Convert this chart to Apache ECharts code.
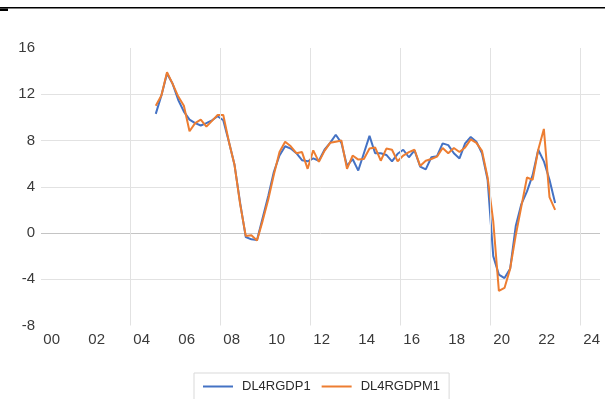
<!DOCTYPE html>
<html>
<head>
<meta charset="utf-8">
<script src="https://cdn.jsdelivr.net/npm/echarts@6/dist/echarts.min.js"></script>
<style>
  html, body { margin: 0; padding: 0; background: #fff; }
  #chart { width: 605px; height: 399px; }
</style>
</head>
<body>
<div id="chart"></div>
<script>
// Quarterly series, first observation 2004 Q3
const firstYear = 2004;
const firstQuarter = 3;

// Year-on-year growth, percent
const dl4rgdp1 = [
  10.3, 11.9, 13.8, 12.9, 11.5, 10.5, 9.8, 9.5, 9.3, 9.5, 9.75, 10.1,
  9.75, 7.9, 5.9, 2.6, -0.35, -0.55, -0.6, 1.3, 3.2, 5.3, 6.7, 7.5,
  7.3, 6.9, 6.3, 6.2, 6.45, 6.25, 7.2, 7.8, 8.5, 7.8, 5.8, 6.4,
  5.4, 6.9, 8.4, 6.9, 6.9, 6.75, 6.2, 6.85, 7.2, 6.55, 7.15, 5.75,
  5.5, 6.55, 6.65, 7.75, 7.6, 6.9, 6.45, 7.75, 8.3, 7.9, 6.9, 4.6,
  -2.0, -3.6, -3.9, -3.1, 0.6, 2.5, 3.6, 5.0, 7.2, 6.2, 4.6, 2.6
];
const dl4rgdpm1 = [
  11.0, 11.9, 13.9, 12.9, 11.8, 11.0, 8.8, 9.5, 9.8, 9.2, 9.7, 10.2,
  10.2, 7.9, 5.9, 2.5, -0.25, -0.2, -0.65, 1.05, 2.9, 5.05, 7.0, 7.9,
  7.5, 6.9, 7.0, 5.55, 7.15, 6.15, 7.1, 7.8, 7.9, 8.0, 5.55, 6.7,
  6.35, 6.4, 7.3, 7.4, 6.25, 7.3, 7.2, 6.2, 6.7, 7.0, 7.2, 5.8,
  6.25, 6.4, 6.6, 7.35, 6.9, 7.35, 7.0, 7.4, 8.1, 7.8, 7.1, 4.8,
  1.0, -5.0, -4.75, -3.1, -0.2, 2.3, 4.8, 4.6, 7.2, 9.0, 3.1, 2.0
];

const seriesNames = ['DL4RGDP1', 'DL4RGDPM1'];
const seriesColors = ['#4472C4', '#ED7D31'];

// Axis labels (years since 2000) and vertical gridline positions
const yearTicks = [0, 2, 4, 6, 8, 10, 12, 14, 16, 18, 20, 22, 24];
const yearGridLines = [3.5, 7.5, 11.5, 15.5, 19.5, 23.5];
const valueTicks = [-8, -4, 0, 4, 8, 12, 16];

// Quarter labels and their mid-quarter position on the year axis
const quarters = [];
const quarterPos = [];
for (let i = 0; i < dl4rgdp1.length; i++) {
  const k = (firstQuarter - 1) + i;
  const y = firstYear + Math.floor(k / 4);
  const q = (k % 4) + 1;
  quarters.push(y + 'Q' + q);
  quarterPos.push((y - 2000) + (q - 1) * 0.25 + 0.125);
}

function pairs(values) {
  return values.map((v, i) => [quarterPos[i], v]);
}

const labelColor = '#3a3a3a';
const gridColor = '#e2e2e2';

const chart = echarts.init(document.getElementById('chart'), null, { renderer: 'canvas' });

chart.setOption({
  animation: false,
  backgroundColor: '#ffffff',
  textStyle: { fontFamily: 'Liberation Sans' },
  graphic: [
    { type: 'rect', shape: { x: 0, y: 7, width: 605, height: 1.6 }, style: { fill: '#000' }, silent: true },
    { type: 'rect', shape: { x: 0, y: 8.5, width: 8, height: 2.5 }, style: { fill: '#000' }, silent: true }
  ],
  grid: { left: 41, right: 5, top: 48, bottom: 73.5, containLabel: false },
  xAxis: {
    type: 'value',
    min: -0.476,
    max: 24.37,
    axisLine: { show: false },
    axisTick: { show: false },
    splitLine: { show: false },
    axisLabel: {
      customValues: yearTicks,
      margin: 7,
      fontSize: 15,
      color: labelColor,
      fontFamily: 'Liberation Sans',
      formatter: v => String(Math.round(v)).padStart(2, '0')
    }
  },
  yAxis: {
    type: 'value',
    min: valueTicks[0],
    max: valueTicks[valueTicks.length - 1],
    interval: 4,
    axisLine: { show: false },
    axisTick: { show: false },
    axisLabel: { margin: 6, fontSize: 15, color: labelColor, fontFamily: 'Liberation Sans' },
    splitLine: {
      show: true,
      lineStyle: {
        width: 1,
        color: valueTicks.map(v => v === 0 ? '#c4c4c4'
          : (v === valueTicks[0] || v === valueTicks[valueTicks.length - 1]) ? 'rgba(0,0,0,0)'
          : gridColor)
      }
    }
  },
  legend: {
    data: seriesNames,
    left: 194,
    top: 373,
    orient: 'horizontal',
    padding: [7, 9, 14, 9],
    borderColor: '#d9d9d9',
    borderWidth: 1,
    itemWidth: 30,
    itemHeight: 2,
    itemGap: 11,
    icon: 'rect',
    textStyle: { fontSize: 13, color: '#2b2b2b', fontFamily: 'Liberation Sans', padding: [0, 0, 0, 4] }
  },
  series: [
    {
      type: 'line',
      data: [],
      z: 1,
      silent: true,
      markLine: {
        silent: true,
        symbol: ['none', 'none'],
        label: { show: false },
        lineStyle: { color: gridColor, width: 1, type: 'solid' },
        emphasis: { disabled: true },
        data: yearGridLines.map(x => ({ xAxis: x }))
      }
    },
    {
      name: seriesNames[0],
      type: 'line',
      data: pairs(dl4rgdp1),
      showSymbol: false,
      z: 3,
      color: seriesColors[0],
      lineStyle: { width: 2, color: seriesColors[0] }
    },
    {
      name: seriesNames[1],
      type: 'line',
      data: pairs(dl4rgdpm1),
      showSymbol: false,
      z: 4,
      color: seriesColors[1],
      lineStyle: { width: 2, color: seriesColors[1] }
    }
  ]
});
</script>
</body>
</html>
